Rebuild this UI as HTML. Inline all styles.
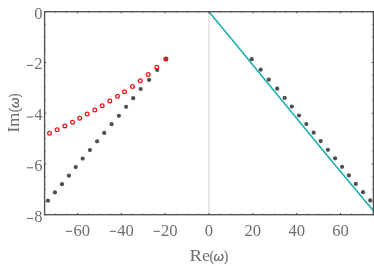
<!DOCTYPE html>
<html><head><meta charset="utf-8"><title>plot</title>
<style>html,body{margin:0;padding:0;background:#fff;}svg{display:block;font-family:"Liberation Serif",serif;}</style></head><body>
<svg width="374" height="266" viewBox="0 0 374 266">
<rect width="374" height="266" fill="#fff"/>
<line x1="209.00" y1="11.7" x2="209.00" y2="214.7" stroke="#e2e2e2" stroke-width="1.5"/>
<polyline points="209.00,11.7 230.67,38 335.0,165 373.4,210.8" fill="none" stroke="#1bb0b0" stroke-width="1.6" stroke-linejoin="round"/>
<circle cx="165.9" cy="59.0" r="2.12" fill="#505050"/>
<circle cx="157.2" cy="70.0" r="2.12" fill="#505050"/>
<circle cx="149.1" cy="79.9" r="2.12" fill="#505050"/>
<circle cx="140.7" cy="89.0" r="2.12" fill="#505050"/>
<circle cx="133.2" cy="98.2" r="2.12" fill="#505050"/>
<circle cx="126.1" cy="106.8" r="2.12" fill="#505050"/>
<circle cx="118.9" cy="115.8" r="2.12" fill="#505050"/>
<circle cx="111.6" cy="124.2" r="2.12" fill="#505050"/>
<circle cx="104.2" cy="132.9" r="2.12" fill="#505050"/>
<circle cx="97.1" cy="141.3" r="2.12" fill="#505050"/>
<circle cx="89.9" cy="150.1" r="2.12" fill="#505050"/>
<circle cx="82.7" cy="158.6" r="2.12" fill="#505050"/>
<circle cx="75.7" cy="167.1" r="2.12" fill="#505050"/>
<circle cx="68.9" cy="175.7" r="2.12" fill="#505050"/>
<circle cx="62.0" cy="184.2" r="2.12" fill="#505050"/>
<circle cx="54.9" cy="192.4" r="2.12" fill="#505050"/>
<circle cx="48.0" cy="200.7" r="2.12" fill="#505050"/>
<circle cx="251.7" cy="59.2" r="2.12" fill="#505050"/>
<circle cx="260.7" cy="69.7" r="2.12" fill="#505050"/>
<circle cx="268.8" cy="79.7" r="2.12" fill="#505050"/>
<circle cx="277.2" cy="88.7" r="2.12" fill="#505050"/>
<circle cx="284.7" cy="97.9" r="2.12" fill="#505050"/>
<circle cx="291.8" cy="106.6" r="2.12" fill="#505050"/>
<circle cx="299.0" cy="115.5" r="2.12" fill="#505050"/>
<circle cx="306.3" cy="124.0" r="2.12" fill="#505050"/>
<circle cx="313.7" cy="132.7" r="2.12" fill="#505050"/>
<circle cx="320.7" cy="141.1" r="2.12" fill="#505050"/>
<circle cx="327.9" cy="149.8" r="2.12" fill="#505050"/>
<circle cx="335.1" cy="158.3" r="2.12" fill="#505050"/>
<circle cx="342.1" cy="166.8" r="2.12" fill="#505050"/>
<circle cx="348.9" cy="175.4" r="2.12" fill="#505050"/>
<circle cx="355.8" cy="183.9" r="2.12" fill="#505050"/>
<circle cx="363.0" cy="192.2" r="2.12" fill="#505050"/>
<circle cx="370.2" cy="200.4" r="2.12" fill="#505050"/>
<circle cx="165.9" cy="59.0" r="1.87" fill="none" stroke="#f21414" stroke-width="1.3"/>
<circle cx="156.8" cy="67.3" r="1.87" fill="none" stroke="#f21414" stroke-width="1.3"/>
<circle cx="148.2" cy="74.5" r="1.87" fill="none" stroke="#f21414" stroke-width="1.3"/>
<circle cx="140.3" cy="80.8" r="1.87" fill="none" stroke="#f21414" stroke-width="1.3"/>
<circle cx="132.4" cy="86.5" r="1.87" fill="none" stroke="#f21414" stroke-width="1.3"/>
<circle cx="124.5" cy="91.7" r="1.87" fill="none" stroke="#f21414" stroke-width="1.3"/>
<circle cx="117.5" cy="96.3" r="1.87" fill="none" stroke="#f21414" stroke-width="1.3"/>
<circle cx="109.8" cy="101.0" r="1.87" fill="none" stroke="#f21414" stroke-width="1.3"/>
<circle cx="102.2" cy="105.8" r="1.87" fill="none" stroke="#f21414" stroke-width="1.3"/>
<circle cx="94.8" cy="110.0" r="1.87" fill="none" stroke="#f21414" stroke-width="1.3"/>
<circle cx="87.2" cy="114.0" r="1.87" fill="none" stroke="#f21414" stroke-width="1.3"/>
<circle cx="79.7" cy="118.2" r="1.87" fill="none" stroke="#f21414" stroke-width="1.3"/>
<circle cx="72.5" cy="122.2" r="1.87" fill="none" stroke="#f21414" stroke-width="1.3"/>
<circle cx="64.8" cy="125.9" r="1.87" fill="none" stroke="#f21414" stroke-width="1.3"/>
<circle cx="57.1" cy="129.8" r="1.87" fill="none" stroke="#f21414" stroke-width="1.3"/>
<circle cx="49.5" cy="133.3" r="1.87" fill="none" stroke="#f21414" stroke-width="1.3"/>
<path d="M77.48 214.7v-1.65M77.48 11.7v1.65M121.32 214.7v-1.65M121.32 11.7v1.65M165.16 214.7v-1.65M165.16 11.7v1.65M209.00 214.7v-1.65M209.00 11.7v1.65M252.84 214.7v-1.65M252.84 11.7v1.65M296.68 214.7v-1.65M296.68 11.7v1.65M340.52 214.7v-1.65M340.52 11.7v1.65M44.6 11.70h1.65M373.4 11.70h-1.65M44.6 62.45h1.65M373.4 62.45h-1.65M44.6 113.20h1.65M373.4 113.20h-1.65M44.6 163.95h1.65M373.4 163.95h-1.65M44.6 214.70h1.65M373.4 214.70h-1.65" stroke="#505050" stroke-width="1.15" fill="none"/>
<path d="M44.60 214.7v-1.15M44.60 11.7v1.15M55.56 214.7v-1.15M55.56 11.7v1.15M66.52 214.7v-1.15M66.52 11.7v1.15M88.44 214.7v-1.15M88.44 11.7v1.15M99.40 214.7v-1.15M99.40 11.7v1.15M110.36 214.7v-1.15M110.36 11.7v1.15M132.28 214.7v-1.15M132.28 11.7v1.15M143.24 214.7v-1.15M143.24 11.7v1.15M154.20 214.7v-1.15M154.20 11.7v1.15M176.12 214.7v-1.15M176.12 11.7v1.15M187.08 214.7v-1.15M187.08 11.7v1.15M198.04 214.7v-1.15M198.04 11.7v1.15M219.96 214.7v-1.15M219.96 11.7v1.15M230.92 214.7v-1.15M230.92 11.7v1.15M241.88 214.7v-1.15M241.88 11.7v1.15M263.80 214.7v-1.15M263.80 11.7v1.15M274.76 214.7v-1.15M274.76 11.7v1.15M285.72 214.7v-1.15M285.72 11.7v1.15M307.64 214.7v-1.15M307.64 11.7v1.15M318.60 214.7v-1.15M318.60 11.7v1.15M329.56 214.7v-1.15M329.56 11.7v1.15M351.48 214.7v-1.15M351.48 11.7v1.15M362.44 214.7v-1.15M362.44 11.7v1.15M373.40 214.7v-1.15M373.40 11.7v1.15M44.6 24.39h1.15M373.4 24.39h-1.15M44.6 37.08h1.15M373.4 37.08h-1.15M44.6 49.76h1.15M373.4 49.76h-1.15M44.6 75.14h1.15M373.4 75.14h-1.15M44.6 87.83h1.15M373.4 87.83h-1.15M44.6 100.51h1.15M373.4 100.51h-1.15M44.6 125.89h1.15M373.4 125.89h-1.15M44.6 138.57h1.15M373.4 138.57h-1.15M44.6 151.26h1.15M373.4 151.26h-1.15M44.6 176.64h1.15M373.4 176.64h-1.15M44.6 189.32h1.15M373.4 189.32h-1.15M44.6 202.01h1.15M373.4 202.01h-1.15" stroke="#505050" stroke-width="0.8" fill="none"/>
<rect x="44.6" y="11.7" width="328.80" height="203.00" fill="none" stroke="#505050" stroke-width="1.35"/>
<g style="filter:grayscale(1)">
<rect x="65.88" y="230.80" width="6.2" height="1.1" fill="#6e6e6e"/>
<text transform="translate(73.38 235.60) scale(1.0 1.05)" font-size="16.6" fill="#6e6e6e">60</text>
<rect x="109.72" y="230.80" width="6.2" height="1.1" fill="#6e6e6e"/>
<text transform="translate(117.22 235.60) scale(1.0 1.05)" font-size="16.6" fill="#6e6e6e">40</text>
<rect x="153.56" y="230.80" width="6.2" height="1.1" fill="#6e6e6e"/>
<text transform="translate(161.06 235.60) scale(1.0 1.05)" font-size="16.6" fill="#6e6e6e">20</text>
<text transform="translate(204.85 235.60) scale(1.0 1.05)" font-size="16.6" fill="#6e6e6e">0</text>
<text transform="translate(244.54 235.60) scale(1.0 1.05)" font-size="16.6" fill="#6e6e6e">20</text>
<text transform="translate(288.38 235.60) scale(1.0 1.05)" font-size="16.6" fill="#6e6e6e">40</text>
<text transform="translate(332.22 235.60) scale(1.0 1.05)" font-size="16.6" fill="#6e6e6e">60</text>
<text transform="translate(34.30 18.90) scale(1.0 1.05)" font-size="16.6" fill="#6e6e6e">0</text>
<text transform="translate(34.30 68.85) scale(1.0 1.05)" font-size="16.6" fill="#6e6e6e">2</text>
<rect x="26.90" y="64.90" width="6.2" height="1.1" fill="#6e6e6e"/>
<text transform="translate(34.30 120.40) scale(1.0 1.05)" font-size="16.6" fill="#6e6e6e">4</text>
<rect x="26.90" y="116.45" width="6.2" height="1.1" fill="#6e6e6e"/>
<text transform="translate(34.30 171.15) scale(1.0 1.05)" font-size="16.6" fill="#6e6e6e">6</text>
<rect x="26.90" y="167.20" width="6.2" height="1.1" fill="#6e6e6e"/>
<text transform="translate(34.30 221.90) scale(1.0 1.05)" font-size="16.6" fill="#6e6e6e">8</text>
<rect x="26.90" y="217.95" width="6.2" height="1.1" fill="#6e6e6e"/>
<text transform="translate(189.46 260.90) scale(1.156 1.0)" font-size="16.3" fill="#6e6e6e">R</text>
<text transform="translate(201.89 260.90) scale(1.111 1.0)" font-size="16.3" fill="#6e6e6e">e</text>
<text transform="translate(209.69 260.90) scale(0.817 1.0)" font-size="14.3" fill="#6e6e6e" stroke="#6a6a6a" stroke-width="0.3">(</text>
<text transform="translate(213.56 260.90) scale(1.023 1.0)" font-size="13.0" fill="#6e6e6e" font-family="Liberation Sans" font-style="italic" stroke="#6a6a6a" stroke-width="0.3">ω</text>
<text transform="translate(224.32 260.90) scale(0.817 1.0)" font-size="14.3" fill="#6e6e6e" stroke="#6a6a6a" stroke-width="0.3">)</text>
<text transform="translate(18.70 132.66) rotate(-90) scale(1.125 1.06)" font-size="16.3" fill="#6e6e6e">I</text>
<text transform="translate(18.70 127.09) rotate(-90) scale(1.134 1.0)" font-size="16.3" fill="#6e6e6e">m</text>
<text transform="translate(18.70 112.00) rotate(-90) scale(0.790 1.0)" font-size="14.3" fill="#6e6e6e" stroke="#6a6a6a" stroke-width="0.3">(</text>
<text transform="translate(18.70 108.04) rotate(-90) scale(1.034 1.0)" font-size="13.0" fill="#6e6e6e" font-family="Liberation Sans" font-style="italic" stroke="#6a6a6a" stroke-width="0.3">ω</text>
<text transform="translate(18.70 97.25) rotate(-90) scale(0.762 1.0)" font-size="14.3" fill="#6e6e6e" stroke="#6a6a6a" stroke-width="0.3">)</text>
</g>
</svg></body></html>
